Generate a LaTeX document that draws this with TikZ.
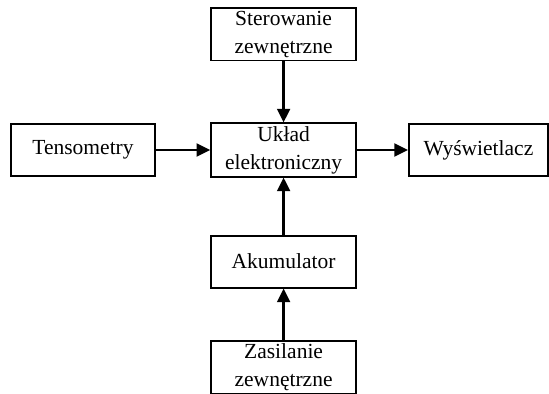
\documentclass[tikz,border=0pt]{standalone}
\usepackage{fontspec}
\setmainfont{Liberation Serif}
\usetikzlibrary{arrows.meta,positioning}
\tikzset{
  blok/.style={draw, line width=1.3pt, minimum width=3.625cm, minimum height=1.3cm,
               inner sep=2pt, align=center, font=\fontsize{15.3}{20}\selectfont},
  strz/.style={-{Triangle[length=3.4mm,width=3.2mm]}, line width=1.8pt},
}
\begin{document}
\begin{tikzpicture}
  \useasboundingbox (0,0) rectangle (13.725,9.85);
  \node[blok] (ster) at (7.09,8.99) {Sterowanie\\zewnętrzne};
  \node[blok] (uklad) at (7.09,6.1) {Układ\\elektroniczny};
  \node[blok, minimum width=3.6cm] (tenso) at (2.075,6.1) {Tensometry};
  \node[blok, minimum width=3.475cm] (wysw) at (11.96,6.1) {Wyświetlacz};
  \node[blok] (akum) at (7.09,3.31) {Akumulator};
  \node[blok] (zasil) at (7.09,0.66) {Zasilanie\\zewnętrzne};
  \draw[strz] (ster) -- (uklad);
  \draw[strz] (tenso) -- (uklad);
  \draw[strz] (uklad) -- (wysw);
  \draw[strz] (akum) -- (uklad);
  \draw[strz] (zasil) -- (akum);
\end{tikzpicture}
\end{document}
